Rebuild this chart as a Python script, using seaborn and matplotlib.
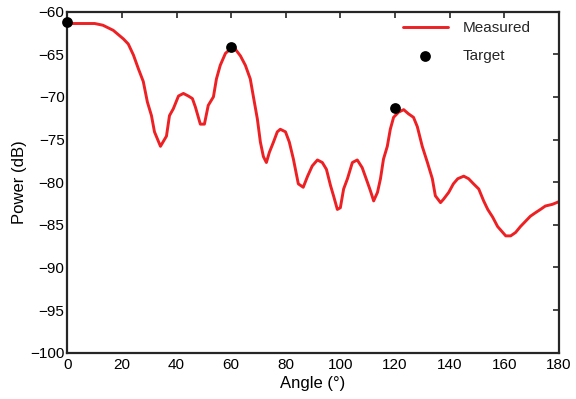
import numpy as np
import pandas as pd
import matplotlib
matplotlib.use("Agg")
import matplotlib.pyplot as plt
import seaborn as sns

# Measured curve
angle = [0, 5, 10, 13, 16.8, 20.5, 22.3, 24.2, 26, 27.8, 29.3, 30.8, 31.9, 34.1,
         36.3, 37.4, 38.8, 40.7, 42.5, 44.3, 45.8, 46.9, 48.7, 50.2, 51.6, 53.5,
         54.6, 56, 57.9, 60, 61.5, 63.4, 65.2, 67, 68.1, 69.6, 70.7, 71.8, 72.9,
         74, 75.5, 76.9, 78, 79.9, 81.3, 82.8, 84.6, 86.4, 88, 89.7, 91.6, 93.4,
         94.9, 96.4, 97.5, 98.9, 100, 101.2, 102.6, 104.4, 106.2, 108, 109.9, 111,
         112.2, 113.6, 114.7, 115.8, 117.2, 118.3, 119.5, 121.3, 123.2, 125, 126.8,
         128.2, 130, 131.9, 133.7, 134.8, 136.7, 137.8, 139.7, 141.4, 143, 145.2,
         147, 148.8, 150.7, 152.5, 154, 155.8, 157.6, 159.5, 160.6, 162.4, 164.2,
         166, 167.8, 169.6, 171.4, 173.3, 175.1, 177.7, 180]
power = [-61.4, -61.4, -61.4, -61.6, -62.2, -63.2, -63.8, -65.1, -66.7, -68.2,
         -70.6, -72.2, -74.1, -75.8, -74.6, -72.2, -71.4, -69.9, -69.6, -69.9,
         -70.2, -71.2, -73.2, -73.2, -71.0, -70.0, -67.9, -66.3, -64.9, -64.3,
         -64.4, -65.2, -66.3, -67.9, -69.9, -72.6, -75.3, -77.0, -77.7, -76.5,
         -75.3, -74.1, -73.8, -74.1, -75.3, -77.3, -80.2, -80.6, -79.3, -78.1,
         -77.4, -77.7, -78.5, -80.4, -81.6, -83.2, -83.0, -80.8, -79.6, -77.7,
         -77.4, -78.3, -80.0, -81.0, -82.2, -81.2, -79.6, -77.3, -75.8, -73.8,
         -72.4, -71.8, -71.5, -72.0, -72.4, -73.5, -75.8, -77.7, -79.6, -81.6,
         -82.4, -82.0, -81.2, -80.2, -79.6, -79.3, -79.6, -80.2, -80.8, -82.2,
         -83.2, -84.1, -85.2, -85.9, -86.3, -86.3, -85.9, -85.2, -84.6, -84.0,
         -83.6, -83.2, -82.8, -82.6, -82.3]

target_angle = [0, 60, 120]
target_power = [-61.2, -64.2, -71.3]

sns.set_style("white")
plt.rcParams['font.family'] = ['Liberation Sans', 'DejaVu Sans']
plt.rcParams['xtick.direction'] = 'in'
plt.rcParams['ytick.direction'] = 'in'

fig = plt.figure(figsize=(5.76, 3.99), dpi=100)
ax = fig.add_axes([0.117, 0.116, 0.853, 0.855])

measured = pd.DataFrame({'Angle': angle, 'Power': power})
target = pd.DataFrame({'Angle': target_angle, 'Power': target_power})

sns.lineplot(data=measured, x='Angle', y='Power', color='#ed2024', lw=2.1,
             label='Measured', ax=ax)
sns.scatterplot(data=target, x='Angle', y='Power', color='black', s=60,
                edgecolor='black', linewidth=0, label='Target', ax=ax,
                clip_on=False, zorder=5)

ax.set_xlim(0, 180)
ax.set_ylim(-100, -60)
ax.set_xticks(np.arange(0, 181, 20))
ax.set_yticks(np.arange(-100, -59, 5))
ax.tick_params(axis='both', labelsize=11, length=4, width=1.2, color='#262626',
               labelcolor='black', top=True, right=True)
ax.tick_params(axis='x', pad=4)
ax.tick_params(axis='y', pad=2)
for sp in ax.spines.values():
    sp.set_linewidth(1.6)
    sp.set_color('#262626')

ax.set_xlabel('Angle (°)', fontsize=12, labelpad=3, color='black')
ax.set_ylabel('Power (dB)', fontsize=12, labelpad=2, color='black')

ax.legend(loc='upper right', bbox_to_anchor=(0.962, 0.998), frameon=False,
          fontsize=11, handlelength=2.9, handletextpad=1.0,
          borderaxespad=0.2, labelspacing=0.9)

fig.savefig('out.png', dpi=100)
